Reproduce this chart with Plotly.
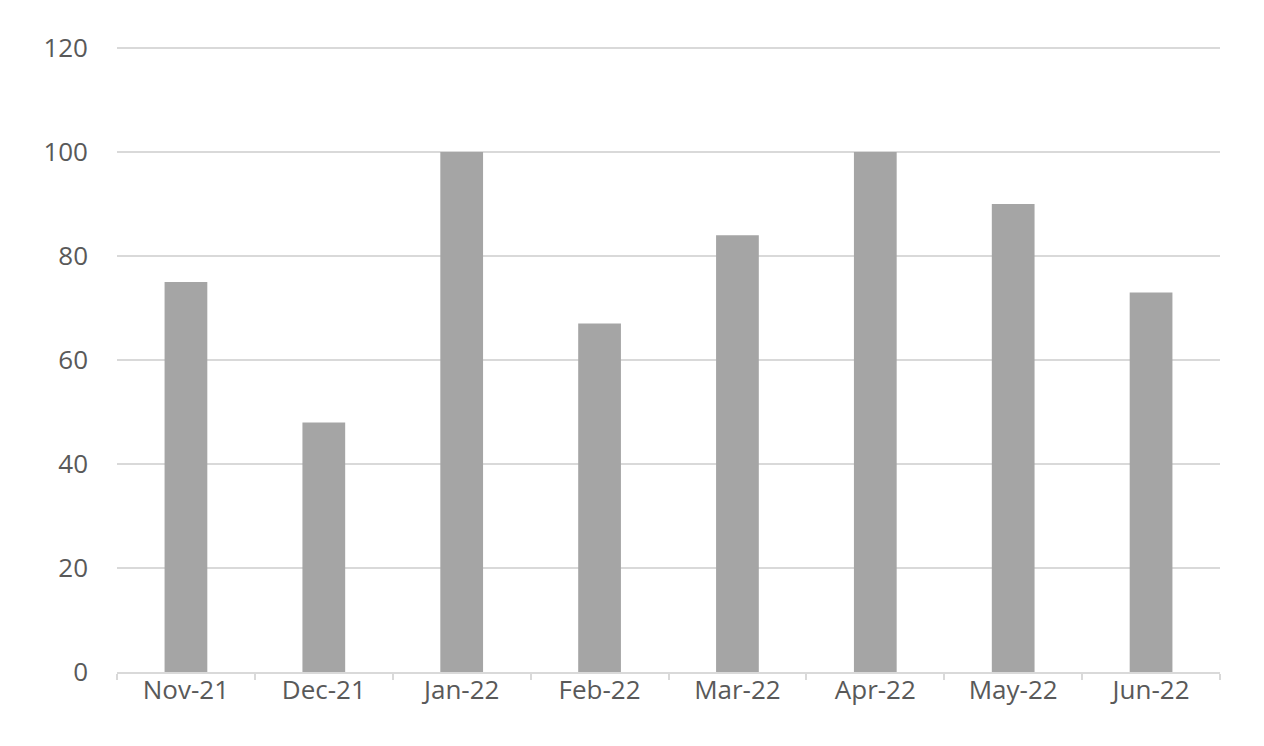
import plotly.graph_objects as go

months = ["Nov-21", "Dec-21", "Jan-22", "Feb-22", "Mar-22", "Apr-22", "May-22", "Jun-22"]
values = [75, 48, 100, 67, 84, 100, 90, 73]
y_ticks = [0, 20, 40, 60, 80, 100, 120]

fig = go.Figure(go.Bar(x=months, y=values, marker=dict(color="#a5a5a5", line=dict(width=0))))

fig.update_layout(
    width=1248, height=730,
    margin=dict(l=109, r=36, t=39, b=66),
    paper_bgcolor="white", plot_bgcolor="white",
    bargap=0.69,
    showlegend=False,
    font=dict(family="Open Sans, Liberation Sans, sans-serif", size=26, color="#595959"),
)
fig.update_xaxes(
    type="category",
    showline=True, linecolor="#d9d9d9", linewidth=1.5,
    ticks="outside", tickson="boundaries", ticklen=6, tickcolor="#d9d9d9", tickwidth=1.5,
    showgrid=False, ticklabelstandoff=-6,
    tickfont=dict(size=26, color="#595959"),
)
fig.update_yaxes(
    range=[0, 120.2], tickvals=y_ticks, showgrid=True, gridcolor="#d9d9d9", gridwidth=1.5,
    zeroline=False, showline=False, ticks="", ticklabelstandoff=28,
    tickfont=dict(size=26, color="#595959"),
)
fig.write_html("out.html")
